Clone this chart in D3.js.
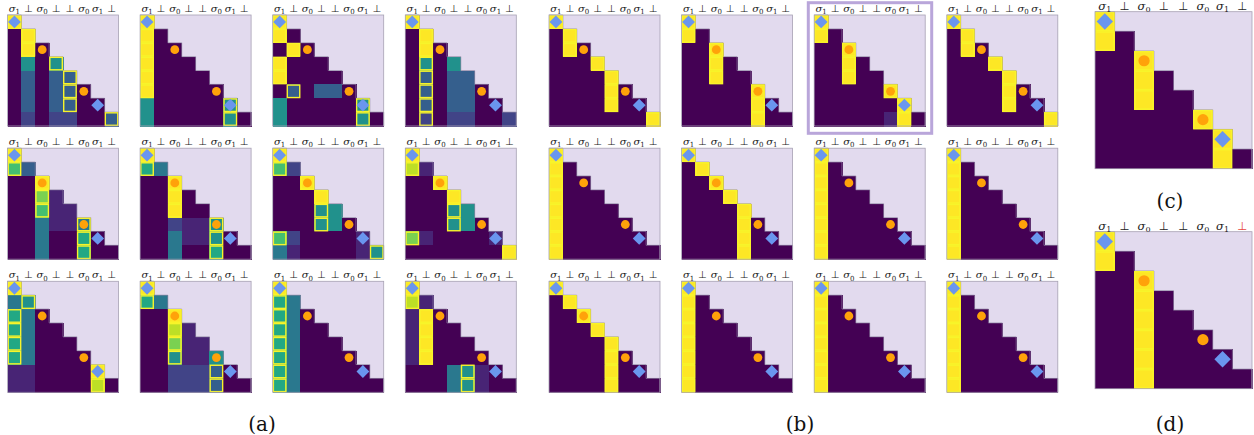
<!DOCTYPE html>
<html><head><meta charset="utf-8">
<script src="https://cdn.jsdelivr.net/npm/d3@7/dist/d3.min.js"></script>
<style>body{margin:0;background:#fff}svg{display:block}</style>
</head><body>
<script>
// ---- data ----
const colLabels = ["σ1","⊥","σ0","⊥","⊥","σ0","σ1","⊥"];
const diamondCells = [0, 6];   // diagonal positions of σ1
const circleCells = [2, 5];    // diagonal positions of σ0
// value code: digit d -> d/10, "Y" -> 1 ; row r has r+1 entries (causal)
const valuesA = [
  ["Y","0Y","0Y0","0505","03033","030330","0303300","02022003"],
  ["Y","Y0","Y00","Y000","Y0000","Y00000","5000005","50000050"],
  ["Y","Y0","0Y0","Y000","Y0000","030330","5000005","50000050"],
  ["Y","0Y","0Y0","0505","03033","030330","0303300","02022002"],
  ["Y","73","00Y","0081","00711","004114","0040060","00400600"],
  ["Y","64","00Y","00Y0","00Y00","002115","0041150","00400600"],
  ["Y","72","00Y","000Y","00055","000550","7200001","41000015"],
  ["Y","91","00Y","000Y","00055","000550","8100001","0000000Y"],
  ["Y","45","640","6400","64000","640000","110000Y","11000090"],
  ["Y","64","00Y","0091","00811","005115","0022230","00222300"],
  ["Y","64","640","6400","64000","640000","6400000","64000000"],
  ["Y","91","1Y0","1Y00","1Y000","1Y0000","0004510","00045100"]
];
const highlightsA = ["01134447","00000066","00100166","01111111",
                     "00222555","00222555","00233307","00233307",
                     "01000066","00222255","00000000","00111144"];
const valuesB = [
  ["Y","0Y","0Y0","000Y","0000Y","0000Y0","0000Y00","0000000Y"],
  ["Y","Y0","00Y","00Y0","00Y00","00000Y","00000Y0","00000Y00"],
  ["Y","Y0","00Y","00Y0","00Y00","00000Y","000000Y","000001Y0"],
  ["Y","0Y","0Y0","000Y","0000Y","0000Y0","0000Y00","0000000Y"],
  ["Y","Y0","Y00","Y000","Y0000","Y00000","Y000000","Y0000000"],
  ["Y","0Y","00Y","000Y","0000Y","0000Y0","0000Y00","0000Y000"],
  ["Y","Y0","Y00","Y000","Y0000","Y00000","Y000000","Y0000000"],
  ["Y","Y0","Y00","Y000","Y0000","Y00000","Y000000","Y0000000"],
  ["Y","0Y","00Y","000Y","0000Y","0000Y0","0000Y00","0000Y000"],
  ["Y","Y0","Y00","Y000","Y0000","Y00000","Y000000","Y0000000"],
  ["Y","Y0","Y00","Y000","Y0000","Y00000","Y000000","Y0000000"],
  ["Y","Y0","Y00","Y000","Y0000","Y00000","Y000000","Y0000000"]
];
const highlightsB = ["01134447","00222555","00222566","01134447",
                     "00000000","01234444","00000000","00000000",
                     "01234444","00000000","00000000","00000000"];
const valuesC = ["Y","Y0","00Y","00Y0","00Y00","00000Y","000000Y","000000Y0"];
const highlightC = "00222566";
const valuesD = ["Y","Y0","00Y","00Y0","00Y00","00Y000","00Y0000","00Y00000"];
const highlightD = "00222222";
const panelLabels = ["(a)","(b)","(c)","(d)"];

// ---- drawing ----
const W = 1254, H = 435;
const svg = d3.select("body").append("svg").attr("width", W).attr("height", H);
const color = d3.scaleSequential(d3.interpolateViridis).domain([0, 1]);
const decode = ch => ch === "Y" ? 1 : (+ch) / 10;
const MASK = "#e2daee";

function drawPanel(x0, y0, size, rows, hl, opt) {
  const g = svg.append("g");
  const x = d3.scaleBand().domain(d3.range(8)).range([x0, x0 + size]);
  const y = d3.scaleBand().domain(d3.range(8)).range([y0, y0 + size]);
  const bw = x.bandwidth();
  g.append("rect").attr("x", x0).attr("y", y0).attr("width", size).attr("height", size).attr("fill", MASK);
  const cells = [];
  rows.forEach((s, r) => s.split("").forEach((ch, c) => cells.push({r, c, v: decode(ch)})));
  g.selectAll("rect.cell").data(cells).join("rect").attr("class", "cell")
    .attr("x", d => x(d.c)).attr("y", d => y(d.r))
    .attr("width", bw + 0.6).attr("height", bw + 0.6)
    .attr("shape-rendering", "crispEdges")
    .attr("fill", d => color(d.v));
  // staircase edge
  let p = `M${x0},${y0}`;
  for (let k = 0; k < 8; k++) {
    p += `L${x0 + (k + 1) * bw},${y0 + k * bw}L${x0 + (k + 1) * bw},${y0 + (k + 1) * bw}`;
  }
  g.append("path").attr("d", p).attr("fill", "none").attr("stroke", "#8f86a3").attr("stroke-width", 0.7);
  // highlights
  const hls = hl.split("").map((ch, r) => ({r, c: +ch}));
  g.selectAll("rect.hl").data(hls).join("rect").attr("class", "hl")
    .attr("x", d => x(d.c) + 0.7).attr("y", d => y(d.r) + 0.7)
    .attr("width", bw - 1.4).attr("height", bw - 1.4)
    .attr("fill", "none").attr("stroke", "#f8f42a").attr("stroke-width", 1.4);
  // markers
  g.selectAll("path.dia").data(diamondCells).join("path").attr("class", "dia")
    .attr("transform", d => `translate(${x(d) + bw / 2},${y(d) + bw / 2})`)
    .attr("d", `M0,${-opt.dia}L${opt.dia},0L0,${opt.dia}L${-opt.dia},0Z`)
    .attr("fill", "#6a96ee");
  g.selectAll("circle.cir").data(circleCells).join("circle").attr("class", "cir")
    .attr("cx", d => x(d) + bw / 2).attr("cy", d => y(d) + bw / 2).attr("r", opt.cir)
    .attr("fill", "#ffa20a");
  // border
  g.append("rect").attr("x", x0).attr("y", y0).attr("width", size).attr("height", size)
    .attr("fill", "none").attr("stroke", "#a7a1b3").attr("stroke-width", 0.8);
  // column labels
  colLabels.forEach((lab, c) => {
    const t = g.append("text").attr("x", x(c) + bw / 2).attr("y", y0 - opt.lblOff)
      .attr("text-anchor", "middle").attr("font-size", opt.fs).attr("fill", "#222");
    if (lab[0] === "σ") {
      t.append("tspan").attr("font-family", "DejaVu Serif").attr("font-style", "italic").text("σ");
      t.append("tspan").attr("font-family", "DejaVu Serif").attr("font-size", opt.fs * 0.7)
        .attr("dy", opt.fs * 0.22).text(lab[1]);
    } else {
      t.attr("font-family", "DejaVu Sans").text(lab)
        .attr("fill", (opt.redLast && c === 7) ? "#e8453c" : "#222");
    }
  });
}

const small = {dia: 6.4, cir: 4.4, fs: 10, lblOff: 3};
const big = {dia: 8.2, cir: 5.6, fs: 11.5, lblOff: 2};
const size = 111;
const rowY = [15, 148.2, 281.3];
const colXA = [7.5, 140.1, 272.7, 405.3];
const colXB = [549, 681.6, 814.2, 946.8];

valuesA.forEach((rows, k) => {
  const i = Math.floor(k / 4), j = k % 4;
  drawPanel(colXA[j], rowY[i], size, rows, highlightsA[k], small);
});
valuesB.forEach((rows, k) => {
  const i = Math.floor(k / 4), j = k % 4;
  drawPanel(colXB[j], rowY[i], size, rows, highlightsB[k], small);
});
// frame around selected (b) panel
svg.append("rect").attr("x", 808.3).attr("y", 2.7).attr("width", 123.4).attr("height", 130.6)
  .attr("fill", "none").attr("stroke", "#b9a6da").attr("stroke-width", 3);

drawPanel(1095, 11.7, 157, valuesC, highlightC, big);
drawPanel(1095, 231.7, 157, valuesD, highlightD, Object.assign({}, big, {redLast: true}));

const labPos = [[262, 431], [800, 431], [1170, 208], [1170, 431]];
panelLabels.forEach((l, k) => {
  svg.append("text").attr("x", labPos[k][0]).attr("y", labPos[k][1])
    .attr("text-anchor", "middle").attr("font-family", "DejaVu Serif")
    .attr("font-size", 20).attr("fill", "#111").text(l);
});
</script>
</body></html>
